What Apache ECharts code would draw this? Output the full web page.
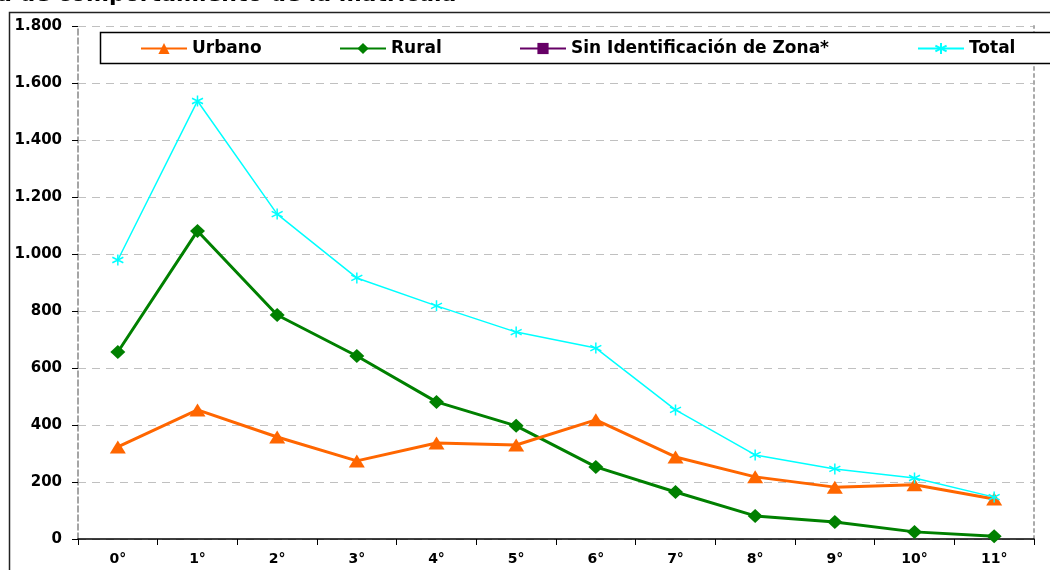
<!DOCTYPE html>
<html>
<head>
<meta charset="utf-8">
<script src="https://cdn.jsdelivr.net/npm/echarts@6/dist/echarts.min.js"></script>
<style>
html,body{margin:0;padding:0;background:#fff;}
#chart{width:1050px;height:570px;}
</style>
</head>
<body>
<div id="chart"></div>
<script>
const titleText = 'a de comportamiento de la matrícula';
const categories = ['0°','1°','2°','3°','4°','5°','6°','7°','8°','9°','10°','11°'];
const seriesNames = ['Urbano','Rural','Sin Identificación de Zona*','Total'];
const urbano = [323, 453, 358, 274, 337, 330, 418, 288, 218, 182, 190, 140];
const rural = [656, 1081, 786, 642, 481, 397, 253, 165, 81, 60, 25, 10];
const sinZona = [null, null, null, null, null, null, null, null, null, null, null, null];
const total = [979, 1537, 1140, 916, 818, 726, 670, 453, 295, 246, 214, 147];
const yTickLabels = ['0','200','400','600','800','1.000','1.200','1.400','1.600','1.800'];

const FONT = 'DejaVu Sans';
const chart = echarts.init(document.getElementById('chart'));
const asterisk = 'path://M5,0L5,10M0.7,2.5L9.3,7.5M9.3,2.5L0.7,7.5';

function legendItem(name, left) {
  return {
    left: left, top: 40, itemWidth: 46, itemHeight: 14, padding: 0,
    data: [name],
    selectedMode: false,
    textStyle: {fontFamily: FONT, fontWeight: 'bold', fontSize: 17, color: '#000'}
  };
}

chart.setOption({
  animation: false,
  backgroundColor: '#fff',
  title: {
    text: titleText, left: -3, top: -16, padding: 0,
    textStyle: {fontFamily: FONT, fontWeight: 'bold', fontSize: 22, color: '#000'}
  },
  graphic: [
    {type: 'rect', z: 0, silent: true, shape: {x: 9.5, y: 12.5, width: 1100, height: 600},
     style: {fill: 'none', stroke: '#222', lineWidth: 1.5}},
    {type: 'rect', z: 3, silent: true, shape: {x: 100.5, y: 32.5, width: 1000, height: 31},
     style: {fill: '#fff', stroke: '#000', lineWidth: 1.5}}
  ],
  legend: [
    legendItem(seriesNames[0], 140),
    legendItem(seriesNames[1], 339),
    legendItem(seriesNames[2], 519),
    legendItem(seriesNames[3], 917)
  ],
  grid: {left: 78, right: 16, top: 26, bottom: 31, containLabel: false},
  xAxis: {
    type: 'category', data: categories, boundaryGap: true,
    axisLine: {lineStyle: {color: '#000', width: 1.5}},
    axisTick: {show: true, length: 6, lineStyle: {color: '#000', width: 1}},
    axisLabel: {fontFamily: FONT, fontWeight: 'bold', fontSize: 14, color: '#000', margin: 13},
    splitLine: {show: false}
  },
  yAxis: [{
    type: 'value', min: 0, max: 1800, interval: 200,
    axisLine: {show: true, lineStyle: {color: '#888', width: 1.5, type: 'dashed'}},
    axisTick: {show: true, length: 6, lineStyle: {color: '#000', width: 1}},
    axisLabel: {fontFamily: FONT, fontWeight: 'bold', fontSize: 15, color: '#000', margin: 16,
      formatter: function (v) { return yTickLabels[Math.round(v / 200)]; }},
    splitLine: {show: true, lineStyle: {color: '#c0c0c0', width: 1, type: [8, 6]}}
  }, {
    type: 'value', min: 0, max: 1800, interval: 200, position: 'right',
    axisLine: {show: true, lineStyle: {color: '#aaa', width: 2, type: [3, 4]}},
    axisTick: {show: false}, axisLabel: {show: false}, splitLine: {show: false}
  }],
  series: [
    {name: seriesNames[0], type: 'line', data: urbano, symbol: 'triangle', symbolSize: [16, 13],
     lineStyle: {color: '#ff6600', width: 3}, itemStyle: {color: '#ff6600'}, z: 4},
    {name: seriesNames[1], type: 'line', data: rural, symbol: 'diamond', symbolSize: [15, 14],
     lineStyle: {color: '#008000', width: 3}, itemStyle: {color: '#008000'}, z: 3},
    {name: seriesNames[2], type: 'line', data: sinZona, symbol: 'rect', symbolSize: 7,
     lineStyle: {color: '#660066', width: 2.5}, itemStyle: {color: '#660066'}},
    {name: seriesNames[3], type: 'line', data: total, symbol: asterisk, symbolSize: 11,
     lineStyle: {color: '#00ffff', width: 1.5},
     itemStyle: {color: '#00ffff', borderColor: '#00ffff', borderWidth: 1.5}, z: 5}
  ]
});
</script>
</body>
</html>
